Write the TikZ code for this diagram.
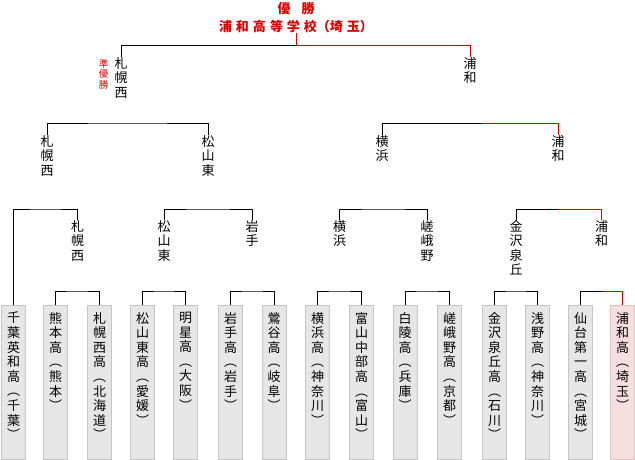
\documentclass[tikz,border=0pt]{standalone}
\usepackage{fontspec}
\usepackage{xcolor}
\usepackage{tikz}
\usetikzlibrary{
    positioning,
    calc
}
\newfontfamily\jp{Noto Sans CJK JP}
\definecolor{winred}{RGB}{222,0,0}
\definecolor{boxgray}{RGB}{230,230,230}
\definecolor{boxedge}{RGB}{196,196,196}
\definecolor{boxpink}{RGB}{245,222,222}
\definecolor{pinkedge}{RGB}{222,196,196}
\tikzset{
  team/.style = {
      draw=boxedge,
      fill=boxgray,
      rectangle,
      anchor=north,
      minimum width=24pt,
      minimum height=154pt,
      inner sep=0pt
  },
  champ/.style = {
      team,
      draw=pinkedge,
      fill=boxpink
  },
  tate/.style = {
      font=\jp\fontsize{13}{14.6}\selectfont,
      align=center,
      anchor=north,
      inner sep=0pt
  },
  title/.style = {
      font=\jp\bfseries\fontsize{13}{15}\selectfont,
      text=winred,
      inner sep=0pt
  },
  runner/.style = {
      font=\jp\fontsize{9.5}{10.5}\selectfont,
      text=winred,
      align=center,
      anchor=north,
      inner sep=0pt
  },
  edge/.style = {
      line width=1pt
  },
  win/.style = {
      edge,
      draw=winred
  }
}
\begin{document}
\begin{tikzpicture}[x=1pt, y=-1pt]
    \useasboundingbox (0,0) rectangle (635,460);
    % Title
    \node[title] (ttl1) at (296,9) {優\hspace{11pt}勝};
    \node[title] (ttl2) at (296,27) {浦\hspace{4pt}和\hspace{4pt}高\hspace{4pt}等\hspace{4pt}学\hspace{4pt}校（埼\hspace{4pt}玉）};
    % Teams
    \node[team] (b1) at (13.5,305) {};
    \node[team] (b2) at (55.5,305) {};
    \node[team] (b3) at (99.5,305) {};
    \node[team] (b4) at (142.5,305) {};
    \node[team] (b5) at (185.5,305) {};
    \node[team] (b6) at (230.5,305) {};
    \node[team] (b7) at (274,305) {};
    \node[team] (b8) at (317.5,305) {};
    \node[team] (b9) at (361.5,305) {};
    \node[team] (b10) at (405,305) {};
    \node[team] (b11) at (449.5,305) {};
    \node[team] (b12) at (494.5,305) {};
    \node[team] (b13) at (537.5,305) {};
    \node[team] (b14) at (580.5,305) {};
    \node[champ] (b15) at (622.5,305) {};
    \node[tate, below=7pt of b1.north] (t1) {千\\葉\\英\\和\\高\\︵\\千\\葉\\︶};
    \node[tate, below=7pt of b2.north] (t2) {熊\\本\\高\\︵\\熊\\本\\︶};
    \node[tate, below=7pt of b3.north] (t3) {札\\幌\\西\\高\\︵\\北\\海\\道\\︶};
    \node[tate, below=7pt of b4.north] (t4) {松\\山\\東\\高\\︵\\愛\\媛\\︶};
    \node[tate, below=7pt of b5.north] (t5) {明\\星\\高\\︵\\大\\阪\\︶};
    \node[tate, below=7pt of b6.north] (t6) {岩\\手\\高\\︵\\岩\\手\\︶};
    \node[tate, below=7pt of b7.north] (t7) {鶯\\谷\\高\\︵\\岐\\阜\\︶};
    \node[tate, below=7pt of b8.north] (t8) {横\\浜\\高\\︵\\神\\奈\\川\\︶};
    \node[tate, below=7pt of b9.north] (t9) {富\\山\\中\\部\\高\\︵\\富\\山\\︶};
    \node[tate, below=7pt of b10.north] (t10) {白\\陵\\高\\︵\\兵\\庫\\︶};
    \node[tate, below=7pt of b11.north] (t11) {嵯\\峨\\野\\高\\︵\\京\\都\\︶};
    \node[tate, below=7pt of b12.north] (t12) {金\\沢\\泉\\丘\\高\\︵\\石\\川\\︶};
    \node[tate, below=7pt of b13.north] (t13) {浅\\野\\高\\︵\\神\\奈\\川\\︶};
    \node[tate, below=7pt of b14.north] (t14) {仙\\台\\第\\一\\高\\︵\\宮\\城\\︶};
    \node[tate, below=7pt of b15.north] (t15) {浦\\和\\高\\︵\\埼\\玉\\︶};
    % Winners
    \node[tate] (n23) at (77.5,220) {札\\幌\\西};
    \node[tate] (n45) at (164,220) {松\\山\\東};
    \node[tate] (n67) at (252,220) {岩\\手};
    \node[tate] (n89) at (339.5,220) {横\\浜};
    \node[tate] (n1011) at (427,220) {嵯\\峨\\野};
    \node[tate] (n1213) at (516,220) {金\\沢\\泉\\丘};
    \node[tate] (n1415) at (601.5,220) {浦\\和};
    \node[tate] (s1) at (47,135) {札\\幌\\西};
    \node[tate] (s2) at (208,135) {松\\山\\東};
    \node[tate] (s3) at (382,135) {横\\浜};
    \node[tate] (s4) at (558,135) {浦\\和};
    \node[tate] (f1) at (121,57) {札\\幌\\西};
    \node[tate] (f2) at (470,57) {浦\\和};
    \node[runner] (ru) at (103.5,59) {準\\優\\勝};
    % Joins
    \coordinate (r23) at (77.5,291);
    \coordinate (r45) at (164,291);
    \coordinate (r67) at (252,291);
    \coordinate (r89) at (339.5,291);
    \coordinate (r1011) at (427,291);
    \coordinate (r1213) at (516,291);
    \coordinate (r1415) at (601.5,291);
    \coordinate (q1) at (45,209);
    \coordinate (q2) at (208,209);
    \coordinate (q3) at (383,209);
    \coordinate (q4) at (558,209);
    \coordinate (p1) at (127,123);
    \coordinate (p2) at (482,123);
    \coordinate (top) at (296,46);
    % Edges
    \draw[edge] (b2.north) |- (r23) -| (b3.north);
    \draw[edge] (b4.north) |- (r45) -| (b5.north);
    \draw[edge] (b6.north) |- (r67) -| (b7.north);
    \draw[edge] (b8.north) |- (r89) -| (b9.north);
    \draw[edge] (b10.north) |- (r1011) -| (b11.north);
    \draw[edge] (b12.north) |- (r1213) -| (b13.north);
    \draw[edge] (b14.north) |- (r1415);
    \draw[win] (r1415) -| (b15.north);
    \draw[edge] (b1.north) |- (q1) -| (n23.north);
    \draw[edge] (n45.north) |- (q2) -| (n67.north);
    \draw[edge] (n89.north) |- (q3) -| (n1011.north);
    \draw[edge] (n1213.north) |- (q4);
    \draw[win] (q4) -| (n1415.north);
    \draw[edge] (s1.north) |- (p1) -| (s2.north);
    \draw[edge] (s3.north) |- (p2);
    \draw[win] (p2) -| (s4.north);
    \draw[edge] (f1.north) |- (top);
    \draw[win] (top) -| (f2.north);
    \draw[win] (top) -- (ttl2.south);
\end{tikzpicture}
\end{document}
